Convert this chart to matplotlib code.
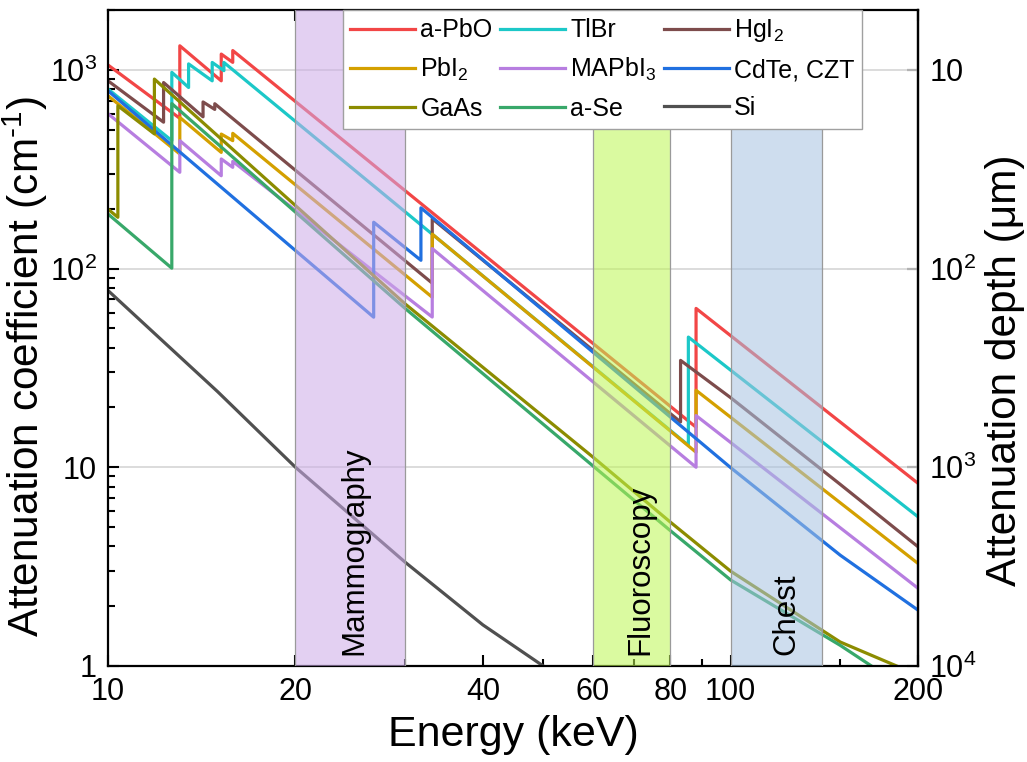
""" attenuation.py """

import matplotlib.pyplot as plt
from matplotlib.ticker import FixedLocator, NullLocator, NullFormatter

plt.rcParams['font.family'] = ['Liberation Sans', 'DejaVu Sans']
plt.rcParams['mathtext.fontset'] = 'custom'
plt.rcParams['mathtext.rm'] = 'Liberation Sans'
plt.rcParams['mathtext.it'] = 'Liberation Sans:italic'
plt.rcParams['mathtext.default'] = 'regular'

# energy (keV) / attenuation coefficient (cm^-1), edges repeated
pbo_e = [10, 13.04, 13.04, 15.2, 15.2, 15.86, 15.86, 88.0, 88.0, 200]
pbo_mu = [1057, 570, 1321, 880, 1200, 1090, 1250, 15.9, 63, 8.3]

tlbr_e = [10, 12.66, 12.66, 13.47, 13.47, 14.70, 14.70, 15.35, 15.35, 85.53, 85.53, 200]
tlbr_mu = [800, 440, 971, 815, 1071, 880, 1089, 990, 1089, 12.9, 45.2, 5.63]

hgi2_e = [10, 12.28, 12.28, 14.21, 14.21, 14.84, 14.84, 33.17, 33.17, 83.1, 83.1, 100, 150, 200]
hgi2_mu = [880, 545, 863, 580, 689, 632, 675, 84.4, 178, 16.9, 34.5, 22.4, 8.2, 3.98]

pbi2_e = [10, 13.04, 13.04, 15.2, 15.2, 15.86, 15.86, 33.17, 33.17, 88.0, 88.0, 200]
pbi2_mu = [740, 377, 576, 384, 475, 440, 479, 71.7, 149, 11.9, 24.4, 3.28]

mapbi3_e = [10, 13.04, 13.04, 15.2, 15.2, 15.86, 15.86, 33.17, 33.17, 88.0, 88.0, 200]
mapbi3_mu = [601, 305, 440, 293, 356, 323, 346, 57, 126, 10.0, 18.2, 2.46]

cdte_e = [10, 26.71, 26.71, 31.81, 31.81, 100, 150, 200]
cdte_mu = [784, 56.9, 171, 110, 202, 9.96, 3.61, 1.91]

gaas_e = [10, 10.37, 10.37, 11.87, 11.87, 30, 60, 80, 100, 150, 200]
gaas_mu = [199, 181, 659, 476, 898, 66.4, 11.3, 5.3, 3.0, 1.32, 0.9]

ase_e = [10, 12.66, 12.66, 30, 60, 80, 100, 150, 200]
ase_mu = [188, 100.4, 676, 63, 10.2, 4.8, 2.71, 1.27, 0.7]

si_e = [10, 15, 20, 30, 40, 50, 60]
si_mu = [77.5, 24, 10, 3.33, 1.61, 1.0, 0.75]

bands = ['Mammography', 'Fluoroscopy', 'Chest']
band_lo = [20, 60, 100]
band_hi = [30, 80, 140]

fig = plt.figure(figsize=(10.27, 7.62), dpi=100)
ax = fig.add_axes([0.1052, 0.126, 0.7887, 0.8609])

lw = 2.3
l_pbo, = ax.plot(pbo_e, pbo_mu, color='#f24646', lw=lw, label='a-PbO')
l_tlbr, = ax.plot(tlbr_e, tlbr_mu, color='#1cc8c8', lw=lw, label='TlBr')
l_hgi2, = ax.plot(hgi2_e, hgi2_mu, color='#7d4c4c', lw=lw, label='HgI$_2$')
l_pbi2, = ax.plot(pbi2_e, pbi2_mu, color='#d4a000', lw=lw, label='PbI$_2$')
l_mapbi3, = ax.plot(mapbi3_e, mapbi3_mu, color='#b77ee0', lw=lw, label='MAPbI$_3$')
l_cdte, = ax.plot(cdte_e, cdte_mu, color='#2070e0', lw=lw, label='CdTe, CZT')
l_gaas, = ax.plot(gaas_e, gaas_mu, color='#8c8c00', lw=lw, label='GaAs')
l_ase, = ax.plot(ase_e, ase_mu, color='#38a86a', lw=lw, label='a-Se')
l_si, = ax.plot(si_e, si_mu, color='#505050', lw=lw, label='Si')

band_colors = [(0.80, 0.67, 0.91), (0.74, 0.965, 0.32), (0.65, 0.76, 0.88)]
for lo, hi, c in zip(band_lo, band_hi, band_colors):
    ax.axvspan(lo, hi, facecolor=c, alpha=0.55, edgecolor='none', zorder=3)
    ax.axvline(lo, color='#9a9a9a', lw=0.9, zorder=3)
    ax.axvline(hi, color='#9a9a9a', lw=0.9, zorder=3)

label_x = [24.9, 71.6, 122.8]
for name, xx in zip(bands, label_x):
    ax.text(xx, 1.13, name, rotation=90, ha='center', va='bottom',
            fontsize=22.5, zorder=4)

ax.set_xscale('log')
ax.set_yscale('log')
ax.set_xlim(10, 200)
ax.set_ylim(1, 2000)

ax.xaxis.set_major_locator(FixedLocator([10, 20, 40, 60, 80, 100, 200]))
ax.xaxis.set_minor_locator(FixedLocator([30, 50, 70, 90, 150]))
ax.set_xticklabels(['10', '20', '40', '60', '80', '100', '200'])
ax.xaxis.set_minor_formatter(NullFormatter())
ax.set_yticks([1, 10, 100, 1000])
ax.set_yticklabels(['1', '10', '$10^2$', '$10^3$'])

ax.grid(axis='y', which='major', color='#d6d6d6', lw=1.2, zorder=0)
ax.set_axisbelow(True)

ax.tick_params(which='both', direction='in', top=True, right=False,
               labelsize=22, width=1.5)
ax.tick_params(which='major', length=8, pad=8)
ax.tick_params(which='minor', length=5)
for s in ax.spines.values():
    s.set_linewidth(1.6)

ax.set_xlabel('Energy (keV)', fontsize=31, labelpad=6)
ax.set_ylabel('Attenuation coefficient (cm$^{\u2010 1}$)', fontsize=30.5)
ax.yaxis.set_label_coords(-0.072, 0.456)

sec = ax.secondary_yaxis('right', functions=(lambda y: 1e4 / y, lambda d: 1e4 / d))
sec.set_yticks([10, 100, 1000, 10000])
sec.set_yticklabels(['10', '$10^2$', '$10^3$', '$10^4$'])
sec.yaxis.set_minor_locator(NullLocator())
sec.tick_params(direction='in', length=8, width=1.5, labelsize=22, pad=8)
sec.spines['right'].set_linewidth(1.6)
fig.text(1005 / 1027, 1 - 370 / 762, 'Attenuation depth (μm)', rotation=90,
         ha='center', va='center', fontsize=30.5)

handles = [l_pbo, l_pbi2, l_gaas, l_tlbr, l_mapbi3, l_ase, l_hgi2, l_cdte, l_si]
leg = ax.legend(handles=handles, ncol=3, loc='upper left',
                bbox_to_anchor=(0.29, 1.0), borderaxespad=0, fontsize=18,
                fancybox=False, framealpha=1, edgecolor='#a0a0a0',
                handlelength=2.6, handletextpad=0.2, columnspacing=0.3,
                labelspacing=0.55, borderpad=0.3)
leg.set_zorder(10)
leg.get_frame().set_linewidth(1.0)

plt.savefig('out.png')
